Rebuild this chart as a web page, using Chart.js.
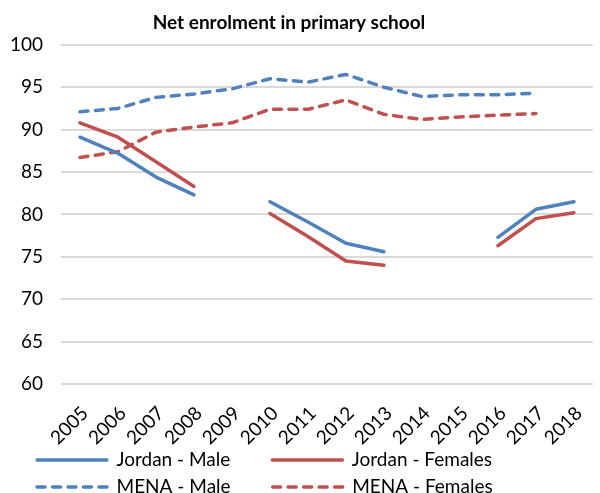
<!DOCTYPE html>
<html>
<head>
<meta charset="utf-8">
<script src="https://cdn.jsdelivr.net/npm/chart.js@4"></script>
<style>
  html, body { margin: 0; padding: 0; background: #fff; }
  #wrap { width: 600px; height: 493px; position: relative; }
</style>
</head>
<body>
<div id="wrap"><canvas id="enrolChart"></canvas></div>
<script>
const years = ['2005', '2006', '2007', '2008', '2009', '2010', '2011',
               '2012', '2013', '2014', '2015', '2016', '2017', '2018'];

// net enrolment rate, % (null = no data that year)
const jordanMale    = [89.1, 87.2, 84.4, 82.3, null, 81.5, 79.1, 76.6, 75.6, null, null, 77.3, 80.6, 81.5];
const jordanFemales = [90.8, 89.1, 86.2, 83.3, null, 80.1, 77.4, 74.5, 74.0, null, null, 76.3, 79.5, 80.2];
const menaMale      = [92.1, 92.5, 93.8, 94.2, 94.8, 96.0, 95.6, 96.5, 95.0, 93.9, 94.1, 94.1, 94.3, null];
const menaFemales   = [86.7, 87.4, 89.7, 90.3, 90.8, 92.4, 92.4, 93.5, 91.8, 91.2, 91.5, 91.7, 91.9, null];

const yTicks = [60, 65, 70, 75, 80, 85, 90, 95, 100];

const BLUE = '#4f81bd';
const RED = '#c0504d';
const FONT = 'Lato';
const DASH = [8, 7.5];
const LINE_W = 3.5;

// room reserved for the left-hand legend column text
const legendColWidth = 146;

const line = (label, data, color, dashed) => ({
    label: label,
    data: data,
    borderColor: color,
    backgroundColor: color,
    borderWidth: LINE_W,
    borderDash: dashed ? DASH : [],
    borderCapStyle: 'round',
    borderJoinStyle: 'round',
    pointRadius: 0,
    pointHoverRadius: 0,
    tension: 0,
    spanGaps: false
});

// nudge the title and legend into place after chart.js lays out its boxes,
// and let the rotated year labels spill below the x axis box
const placeBoxes = {
    id: 'placeBoxes',
    afterLayout(chart) {
        chart.titleBlock.left -= 11;
        chart.titleBlock.right -= 11;
        chart.legend.left += 29;
        chart.legend.top += 13.5;
        chart.legend.bottom += 13.5;
        chart.scales.x.bottom += 30;
    }
};

const ctx = document.getElementById('enrolChart').getContext('2d');
const enrolChart = new Chart(ctx, {
    type: 'line',
    data: {
        labels: years,
        datasets: [
            line('Jordan - Male', jordanMale, BLUE, false),
            line('Jordan - Females', jordanFemales, RED, false),
            line('MENA - Male', menaMale, BLUE, true),
            line('MENA - Females', menaFemales, RED, true)
        ]
    },
    options: {
        responsive: true,
        maintainAspectRatio: false,
        animation: false,
        layout: { padding: 0 },
        plugins: {
            title: {
                display: true,
                text: 'Net enrolment in primary school',
                color: '#000',
                font: { family: FONT, size: 19, weight: 'bold' },
                padding: { top: 11, bottom: 11 }
            },
            legend: {
                position: 'bottom',
                align: 'start',
                labels: {
                    color: '#000',
                    font: { family: FONT, size: 19 },
                    usePointStyle: true,
                    pointStyle: 'line',
                    pointStyleWidth: 70,
                    padding: 8,
                    generateLabels(chart) {
                        const items = Chart.defaults.plugins.legend.labels.generateLabels(chart);
                        const c = chart.ctx;
                        c.save();
                        c.font = `19px ${FONT}`;
                        items.forEach((item, i) => {
                            const ds = chart.data.datasets[item.datasetIndex];
                            item.pointStyle = 'line';
                            item.lineDash = ds.borderDash;
                            item.lineWidth = LINE_W;
                            item.lineCap = 'round';
                            item.strokeStyle = ds.borderColor;
                            if (i % 2 === 0) {
                                while (c.measureText(item.text).width < legendColWidth) item.text += ' ';
                            }
                        });
                        c.restore();
                        return items;
                    }
                }
            },
            tooltip: { enabled: false }
        },
        scales: {
            x: {
                offset: true,
                grid: { display: false },
                border: { display: false },
                ticks: {
                    color: '#000',
                    font: { family: FONT, size: 19 },
                    autoSkip: false,
                    maxRotation: 45,
                    minRotation: 45,
                    padding: 10,
                    labelOffset: 5
                },
                afterFit(scale) { scale.height = 45; }
            },
            y: {
                min: 60,
                max: 100,
                grid: { color: '#d9d9d9', lineWidth: 2, drawTicks: false },
                border: { display: false },
                afterBuildTicks(scale) {
                    scale.ticks = yTicks.map(v => ({ value: v }));
                },
                ticks: {
                    color: '#000',
                    font: { family: FONT, size: 19 },
                    padding: 18
                },
                afterFit(scale) { scale.width = 61; }
            }
        }
    },
    plugins: [placeBoxes]
});
</script>
</body>
</html>
